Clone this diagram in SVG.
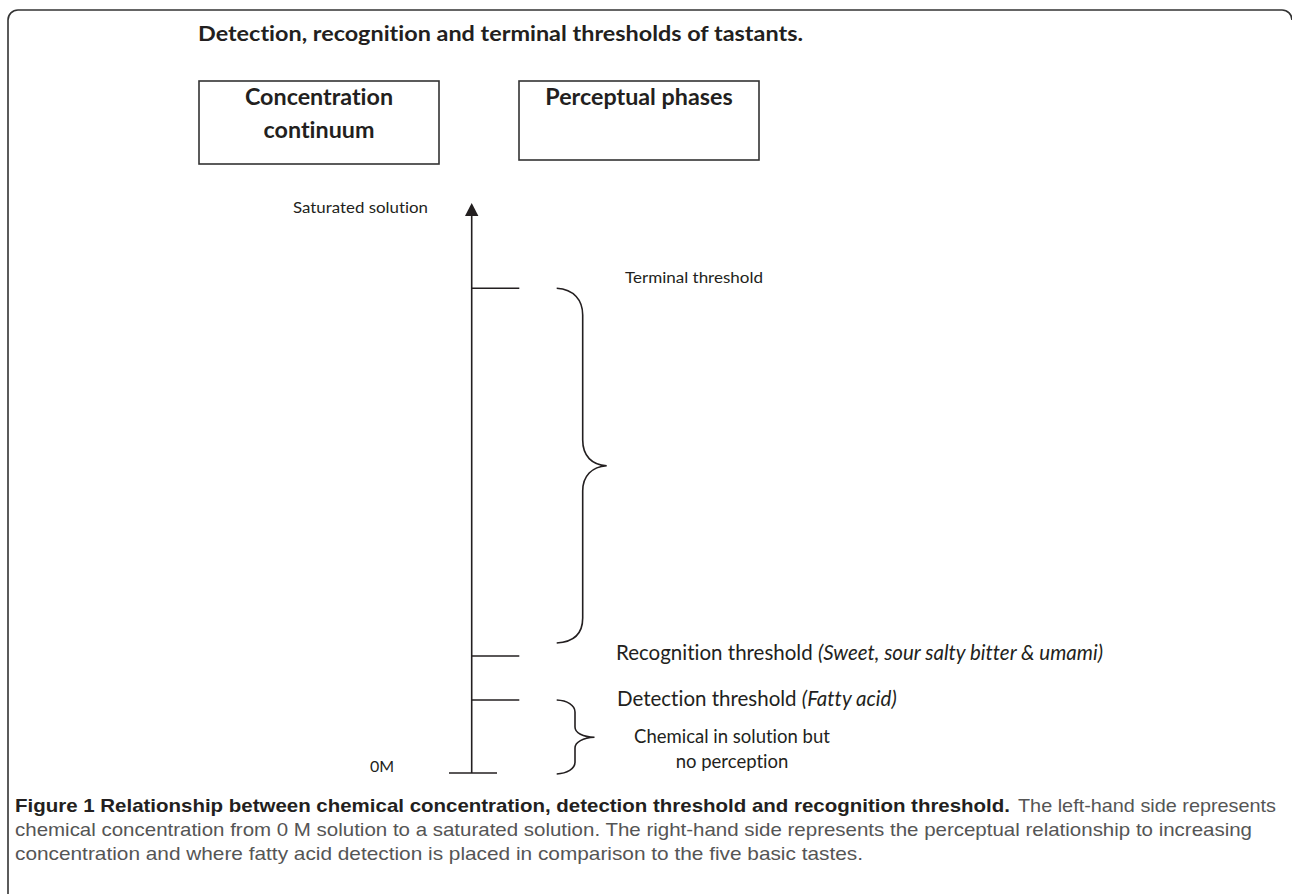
<svg xmlns="http://www.w3.org/2000/svg" width="1292" height="894" viewBox="0 0 1292 894">
<style>
.ln{stroke:#231f20;stroke-width:1.6;fill:none}
.box{stroke:#333;stroke-width:1.6;fill:#fff}
.t{font-family:Lato,"Open Sans","Liberation Sans",sans-serif;fill:#231f20;font-variant-ligatures:none}
.b{font-weight:bold}
.cap{font-family:"Liberation Sans",Arial,sans-serif;font-size:18.5px}
</style>
<rect width="1292" height="894" fill="#fff"/>
<path d="M8,894 V20 A10,10 0 0 1 18,10 H1282 A10,10 0 0 1 1292,20" fill="none" stroke="#333" stroke-width="1.6"/>
<text class="t b" x="198" y="41" font-size="20" textLength="605" lengthAdjust="spacingAndGlyphs">Detection, recognition and terminal thresholds of tastants.</text>
<g id="concentration-box">
<rect class="box" x="199" y="81" width="240" height="83"/>
<text class="t b" x="319" y="105" font-size="23.3" text-anchor="middle">Concentration</text>
<text class="t b" x="319" y="138" font-size="23.3" text-anchor="middle">continuum</text>
</g>
<g id="perceptual-box">
<rect class="box" x="519" y="81" width="240" height="79"/>
<text class="t b" x="639" y="105" font-size="23.3" text-anchor="middle">Perceptual phases</text>
</g>
<g id="connectors">
<path class="ln" d="M471.7,773 V216"/>
<path d="M465,216 L471.7,203 L478.4,216 Z" fill="#231f20"/>
<path class="ln" d="M449,773 H497"/>
<path class="ln" d="M471.7,288.3 H519.3"/>
<path class="ln" d="M471.7,656 H519.3"/>
<path class="ln" d="M471.7,700 H519.3"/>
<path class="ln" d="M556.7,288.3 C574,289.5 582.7,300 582.7,315 V440 C582.7,456 592,465 606.7,465.7 C592,466.5 582.7,476 582.7,491 V618 C582.7,633 574,642 556.7,643"/>
<path class="ln" d="M556.7,700 C567,700.5 575,705 575,712 V727 C575,733 583,737 594.5,737.3 C583,737.8 575,742 575,748 V762 C575,769 567,773.5 556.7,774"/>
</g>
<g id="label-saturated"><text class="t" x="293" y="213" font-size="16" textLength="135" lengthAdjust="spacingAndGlyphs">Saturated solution</text></g>
<g id="label-0m"><text class="t" x="370" y="772" font-size="16">0M</text></g>
<g id="label-terminal"><text class="t" x="625" y="283" font-size="16" textLength="138" lengthAdjust="spacingAndGlyphs">Terminal threshold</text></g>
<g id="label-recognition"><text class="t" x="616" y="660" font-size="20.5">Recognition threshold <tspan font-style="italic">(Sweet, sour salty bitter &amp; umami)</tspan></text></g>
<g id="label-detection"><text class="t" x="617" y="706" font-size="20.5">Detection threshold <tspan font-style="italic">(Fatty acid)</tspan></text></g>
<g id="label-chemical">
<text class="t" x="732" y="743" font-size="18.5" text-anchor="middle">Chemical in solution but</text>
<text class="t" x="732" y="768" font-size="18.5" text-anchor="middle">no perception</text>
</g>
<g id="caption">
<text class="cap" x="15" y="812" font-weight="bold" fill="#231f20" textLength="995" lengthAdjust="spacingAndGlyphs">Figure 1 Relationship between chemical concentration, detection threshold and recognition threshold.</text>
<text class="cap" x="1018" y="812" fill="#555" textLength="258" lengthAdjust="spacingAndGlyphs">The left-hand side represents</text>
<text class="cap" x="15" y="836" fill="#555" textLength="1237" lengthAdjust="spacingAndGlyphs">chemical concentration from 0 M solution to a saturated solution. The right-hand side represents the perceptual relationship to increasing</text>
<text class="cap" x="15" y="860" fill="#555" textLength="848" lengthAdjust="spacingAndGlyphs">concentration and where fatty acid detection is placed in comparison to the five basic tastes.</text>
</g>
</svg>
